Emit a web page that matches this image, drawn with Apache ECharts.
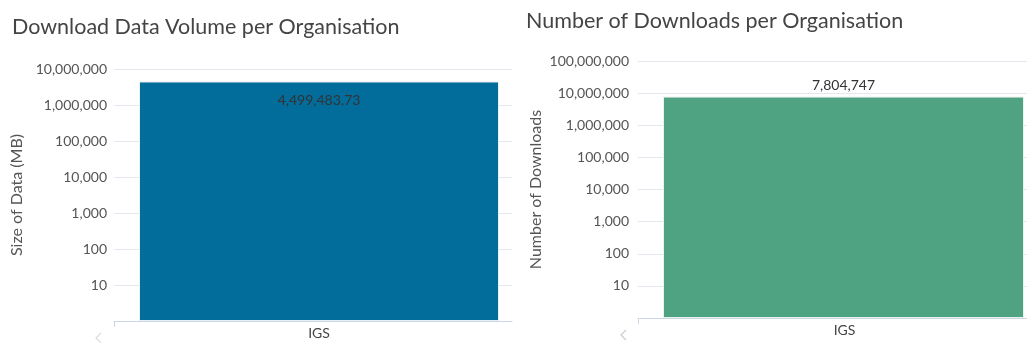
<!DOCTYPE html>
<html><head><meta charset="utf-8">
<script src="https://cdn.jsdelivr.net/npm/echarts@6/dist/echarts.min.js"></script>
<style>html,body{margin:0;padding:0;background:#fff}#c{width:1027px;height:343px}</style>
</head><body><div id="c"></div>
<script>
const categories = ['IGS'];
const volumeMB = [4499483.73];
const downloads = [7804747];
const volumeTitle = 'Download Data Volume per Organisation';
const downloadsTitle = 'Number of Downloads per Organisation';
const volumeAxisName = 'Size of Data (MB)';
const downloadsAxisName = 'Number of Downloads';

const FONT = 'Lato';
const fmt = v => v <= 1 ? '' : Number(v).toLocaleString('en-US');
const fmt2 = v => Number(v).toLocaleString('en-US', {minimumFractionDigits: 2, maximumFractionDigits: 2});

const chart = echarts.init(document.getElementById('c'), null, {renderer: 'canvas'});

function yAxisVisible(grid, max, name, nameGap, margin) {
  return {
    type: 'log', logBase: 10, min: 1, max: max, gridIndex: grid,
    name: name, nameLocation: 'middle', nameGap: nameGap,
    nameTextStyle: {color: '#555', fontSize: 16, fontFamily: FONT},
    axisLine: {show: false}, axisTick: {show: false},
    axisLabel: {color: '#555', fontSize: 14, fontFamily: FONT, margin: margin, formatter: fmt},
    splitLine: {show: true, lineStyle: {color: '#e4e8ee', width: 1}},
    minorSplitLine: {show: false}
  };
}
function yAxisHidden(grid, max) {
  return {type: 'log', logBase: 10, min: 1, max: max, gridIndex: grid, show: false, splitLine: {show: false}};
}

const option = {
  animation: false,
  backgroundColor: '#fff',
  title: [
    {text: volumeTitle, left: 7, top: 11, textStyle: {fontFamily: FONT, fontSize: 21.5, fontWeight: 'normal', color: '#444'}},
    {text: downloadsTitle, left: 521, top: 5, textStyle: {fontFamily: FONT, fontSize: 21.5, fontWeight: 'normal', color: '#444'}}
  ],
  grid: [
    {left: 114, right: 1027 - 512, top: 69, bottom: 22},
    {left: 114, right: 1027 - 524, top: 69, bottom: 22},
    {left: 638, right: 0, top: 61, bottom: 25}
  ],
  xAxis: [
    {type: 'category', gridIndex: 0, data: categories,
     axisLine: {lineStyle: {color: '#ccd6eb'}}, axisTick: {show: false}, axisLabel: {show: false}},
    {type: 'category', gridIndex: 1, data: categories,
     axisLine: {show: false}, axisTick: {show: false},
     axisLabel: {color: '#444', fontSize: 14, fontFamily: FONT, margin: 5}},
    {type: 'category', gridIndex: 2, data: categories,
     axisLine: {lineStyle: {color: '#ccd6eb'}}, axisTick: {show: false},
     axisLabel: {color: '#444', fontSize: 14, fontFamily: FONT, margin: 5, padding: [0, 0, 0, 24]}}
  ],
  yAxis: [
    yAxisVisible(0, 1e7, volumeAxisName, 89, 7),
    yAxisHidden(1, 1e7),
    yAxisVisible(2, 1e8, downloadsAxisName, 94, 9)
  ],
  series: [
    {type: 'bar', xAxisIndex: 1, yAxisIndex: 1, data: volumeMB, barWidth: 360,
     itemStyle: {color: '#026c9b', borderColor: '#e8f0f5', borderWidth: 1},
     label: {show: true, position: 'insideTop', distance: 12, color: '#333', fontSize: 14, fontFamily: FONT, formatter: p => fmt2(p.value)}},
    {type: 'bar', name: 'spacer', xAxisIndex: 2, yAxisIndex: 2, data: ['-'], barWidth: 1, barGap: '2100%',
     itemStyle: {color: 'rgba(0,0,0,0)'}, silent: true},
    {type: 'bar', xAxisIndex: 2, yAxisIndex: 2, data: downloads, barWidth: 361, barGap: '2100%',
     itemStyle: {color: '#4fa383', borderColor: '#e8f2ee', borderWidth: 1},
     label: {show: true, position: 'top', distance: 4, color: '#333', fontSize: 14, fontFamily: FONT, formatter: p => fmt(p.value)}}
  ],
  graphic: [
    {type: 'line', shape: {x1: 114.5, y1: 321, x2: 114.5, y2: 327}, style: {stroke: '#ccd6eb', lineWidth: 1}},
    {type: 'line', shape: {x1: 638.5, y1: 318, x2: 638.5, y2: 324}, style: {stroke: '#ccd6eb', lineWidth: 1}},
    {type: 'polyline', shape: {points: [[101, 333], [96, 338], [101, 343]]}, style: {stroke: '#ddd', lineWidth: 1.2, fill: null}},
    {type: 'polyline', shape: {points: [[626, 330], [621, 335], [626, 340]]}, style: {stroke: '#ccc', lineWidth: 1.2, fill: null}}
  ]
};
chart.setOption(option);
</script></body></html>
